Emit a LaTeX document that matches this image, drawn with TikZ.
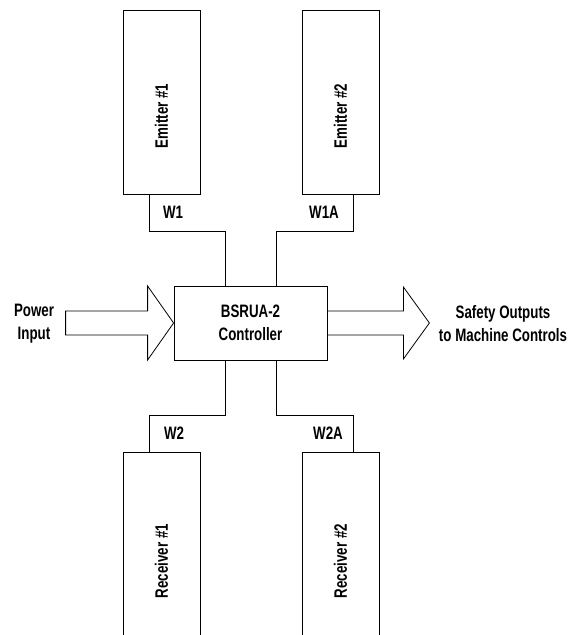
\documentclass[tikz,border=0pt]{standalone}
\usepackage{fontspec}
\setmainfont{Liberation Sans}[FakeStretch=0.74]
\usetikzlibrary{positioning}

\begin{document}
\begin{tikzpicture}[x=1pt,y=-1pt,line width=0.8pt,on grid,
        font=\fontsize{18}{23}\selectfont\bfseries,
        unit/.style={draw,minimum width=77pt,inner sep=0pt},
        ctrlbox/.style={draw,minimum width=153pt,minimum height=74pt,align=center},
        tag/.style={rotate=90,inner sep=0pt},
        txt/.style={align=center,inner sep=0pt}]
        \clip (0,0) rectangle (578,635);
        \node[ctrlbox] (ctrl) at (250.5,323) {BSRUA-2\\Controller};
        \node[unit,minimum height=184pt] (em1) [above left=221pt and 89pt of ctrl] {};
        \node[unit,minimum height=184pt] (em2) [above right=221pt and 90pt of ctrl] {};
        \node[unit,minimum height=200pt] (rc1) [below left=229pt and 89pt of ctrl] {};
        \node[unit,minimum height=200pt] (rc2) [below right=229pt and 90pt of ctrl] {};
        \node[tag] (em1t) at (161.5,116) {Emitter \#1};
        \node[tag] (em2t) at (340.5,116) {Emitter \#2};
        \node[tag] (rc1t) at (161.5,561) {Receiver \#1};
        \node[tag] (rc2t) at (340.5,561) {Receiver \#2};
        % cables
        \draw ([xshift=-12.5pt]em1.south) -- ++(0,37) -| ([xshift=-25.5pt]ctrl.north);
        \draw ([xshift=12.5pt]em2.south) -- ++(0,37) -| ([xshift=25.5pt]ctrl.north);
        \draw ([xshift=-25.5pt]ctrl.south) -- ++(0,55) -| ([xshift=-12.5pt]rc1.north);
        \draw ([xshift=25.5pt]ctrl.south) -- ++(0,55) -| ([xshift=12.5pt]rc2.north);
        \node (w1) at (173,212) {W1};
        \node (w1a) at (324,212) {W1A};
        \node (w2) at (174,433) {W2};
        \node (w2a) at (328,433) {W2A};
        % power in, outputs out
        \draw (ctrl.west) -- ++(-26,-37) -- ++(0,25) -- ++(-82,0) -- ++(0,24)
            -- ++(82,0) -- ++(0,25) -- cycle;
        \draw ([yshift=12pt]ctrl.east) -- ++(76,0) -- ++(0,-24) -- ++(26,36)
            -- ++(-26,36) -- ++(0,-24) -- ++(-76,0);
        \node[txt] (pwr) at (34,324) {Power\\Input};
        \node[txt] (out) at (503,324) {Safety Outputs\\to Machine Controls};
\end{tikzpicture}
\end{document}
